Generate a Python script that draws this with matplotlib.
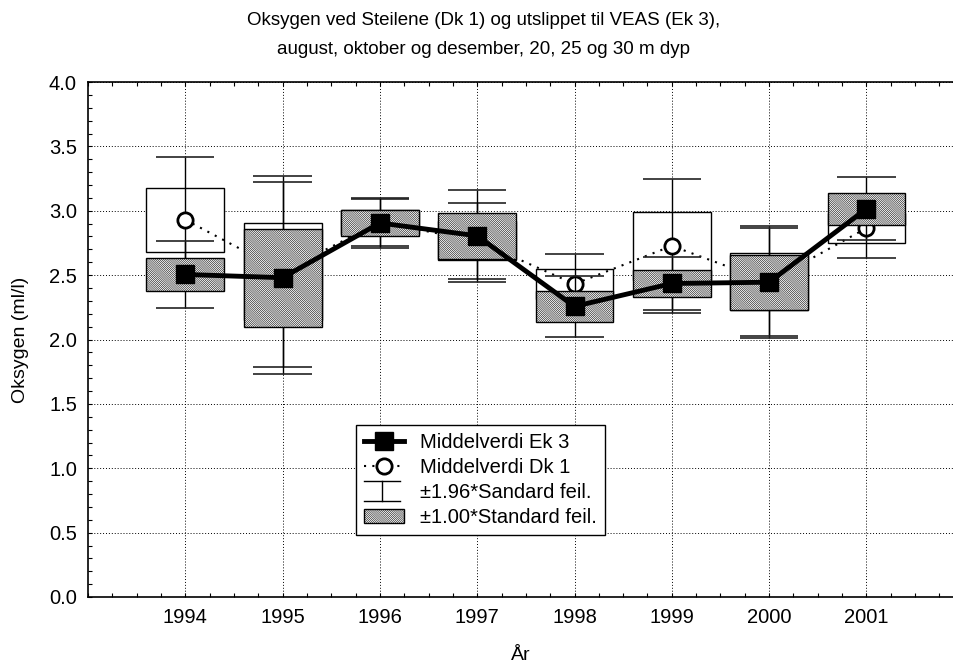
import matplotlib
matplotlib.use('Agg')
import matplotlib.pyplot as plt
from matplotlib.patches import Rectangle
from matplotlib.lines import Line2D
from matplotlib.legend_handler import HandlerBase
from matplotlib.ticker import MultipleLocator
import numpy as np

plt.rcParams['font.family'] = ['Liberation Sans', 'DejaVu Sans']
plt.rcParams['hatch.linewidth'] = 0.38

# data
years = np.array([1994, 1995, 1996, 1997, 1998, 1999, 2000, 2001])
ek3_mean = np.array([2.505, 2.48, 2.905, 2.805, 2.257, 2.435, 2.445, 3.015])
ek3_se = np.array([0.131, 0.381, 0.100, 0.181, 0.120, 0.104, 0.213, 0.125])
dk1_mean = np.array([2.93, 2.53, 2.91, 2.766, 2.431, 2.727, 2.448, 2.865])
dk1_se = np.array([0.248, 0.378, 0.093, 0.151, 0.117, 0.267, 0.222, 0.118])

HATCH = '\\' * 16
BOX_W = 0.8
CAP_W = 0.6


def tegn_serie(ax, mean, se, z, hatch):
    # boks (+-1 SE) og whiskers (+-1.96 SE)
    for x, m, s in zip(years, mean, se):
        lo, hi = m - 1.96 * s, m + 1.96 * s
        box = Rectangle((x - BOX_W / 2, m - s), BOX_W, 2 * s, facecolor='white',
                        edgecolor='black', lw=1, hatch=hatch, zorder=z + 1)
        ax.add_patch(box)
        wz = z if hatch else z + 1.5
        ax.vlines(x, lo, hi, color='black', lw=1, zorder=wz)
        ax.hlines([lo, hi], x - CAP_W / 2, x + CAP_W / 2, color='#222222', lw=1.2, zorder=wz)


class WhiskerHandler(HandlerBase):
    def create_artists(self, legend, orig_handle, xdescent, ydescent, width, height, fontsize, trans):
        x0, y0 = -xdescent, -ydescent - 2
        w, h = width * 0.9, height + 4
        cx = x0 + w / 2
        parts = [Line2D([x0, x0 + w], [y0 + h, y0 + h]),
                 Line2D([x0, x0 + w], [y0, y0]),
                 Line2D([cx, cx], [y0, y0 + h])]
        for p in parts:
            p.set_color('black')
            p.set_linewidth(1)
            p.set_transform(trans)
        return parts


fig = plt.figure(figsize=(9.54, 6.62), dpi=100)
ax = fig.add_axes([88 / 954, 1 - 597 / 662, (954 - 88) / 954, (597 - 82) / 662])

# Dk 1 under, Ek 3 over
tegn_serie(ax, dk1_mean, dk1_se, 2, None)
ax.plot(years, dk1_mean, color='black', lw=1.5, ls=(0, (1, 3)), marker='o', ms=11,
        mfc='white', mec='black', mew=2, zorder=4)
tegn_serie(ax, ek3_mean, ek3_se, 5, HATCH)
ax.plot(years, ek3_mean, color='black', lw=3.5, marker='s', ms=13, zorder=8)

ax.set_xlim(1993, 2001.9)
ax.set_ylim(0, 4.0)
ax.set_xticks(years)
ax.xaxis.set_minor_locator(MultipleLocator(0.25))
ax.yaxis.set_major_locator(MultipleLocator(0.5))
ax.yaxis.set_minor_locator(MultipleLocator(0.1))
ax.yaxis.set_major_formatter(matplotlib.ticker.FormatStrFormatter('%.1f'))
ax.tick_params(which='both', direction='in', top=True, right=False, labelsize=14.5,
               width=0.8, length=3, pad=8)
ax.spines['right'].set_visible(False)
for s in ['left', 'bottom', 'top']:
    ax.spines[s].set_linewidth(1.2)
ax.grid(True, which='major', color='black', ls=(0, (1, 2)), lw=0.7, zorder=0)
ax.set_axisbelow(True)

ax.set_xlabel('År', fontsize=14, labelpad=14)
ax.set_ylabel('Oksygen (ml/l)', fontsize=14, labelpad=14)

fig.text(484 / 954, 1 - 35 / 662,
         'Oksygen ved Steilene (Dk 1) og utslippet til VEAS (Ek 3),\n'
         'august, oktober og desember, 20, 25 og 30 m dyp',
         ha='center', va='center', fontsize=13.5, linespacing=1.85)

h_ek3 = Line2D([], [], color='black', lw=3.5, marker='s', ms=13)
h_dk1 = Line2D([], [], color='black', lw=1.5, ls=(0, (1, 3)), marker='o', ms=11,
               mfc='white', mec='black', mew=2)
h_whisk = Line2D([], [])
h_box = Rectangle((0, 0), 1, 1, facecolor='white', edgecolor='black', hatch=HATCH)
leg = ax.legend([h_ek3, h_dk1, h_whisk, h_box],
                ['Middelverdi Ek 3', 'Middelverdi Dk 1', '±1.96*Sandard feil.',
                 '±1.00*Standard feil.'],
                handler_map={h_whisk: WhiskerHandler()},
                loc='upper left', bbox_to_anchor=(0.309, 0.334), borderaxespad=0,
                fontsize=14.5, fancybox=False, framealpha=1, edgecolor='black',
                handlelength=2.0, labelspacing=0.3, borderpad=0.4, handletextpad=0.8)
leg.get_frame().set_linewidth(1)
leg.set_zorder(20)

fig.savefig('out.png', dpi=100)
